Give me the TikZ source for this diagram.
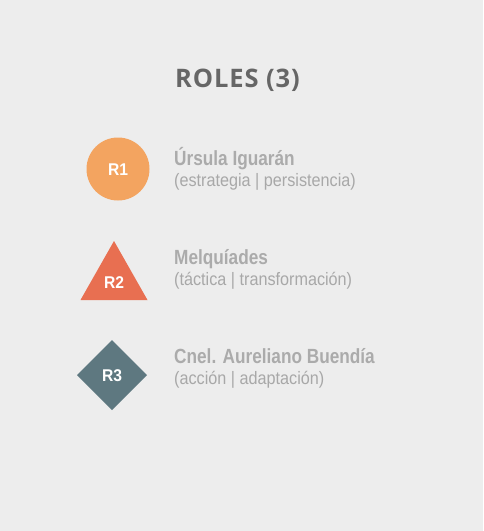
\documentclass[tikz,border=0pt]{standalone}
\usepackage{fontspec}
\setmainfont{Liberation Sans}
\newfontfamily\titlefont[LetterSpace=3.5]{Open Sans}
\newfontfamily\namefont[FakeStretch=0.84]{Liberation Sans}
\newfontfamily\subfont[FakeStretch=0.9]{Liberation Sans}
\newfontfamily\badgefont[FakeStretch=0.92]{Liberation Sans}
\definecolor{bg}{HTML}{EDEDED}
\definecolor{titlec}{HTML}{666666}
\definecolor{namec}{HTML}{ABABAB}
\definecolor{subc}{HTML}{A8A8A8}
\definecolor{r1c}{HTML}{F3A460}
\definecolor{r2c}{HTML}{E86F51}
\definecolor{r3c}{HTML}{5E7880}
\tikzset{
  nametext/.style={anchor=base west, inner sep=0pt, text=namec, font=\namefont\bfseries\fontsize{20.5}{22}\selectfont},
  subtext/.style={anchor=base west, inner sep=0pt, text=subc, font=\subfont\fontsize{18}{20}\selectfont},
  badge/.style={text=white, font=\badgefont\bfseries\fontsize{17}{18}\selectfont, inner sep=0pt}
}
\begin{document}
\begin{tikzpicture}[x=1pt,y=-1pt]
\fill[bg] (0,0) rectangle (483,531);
\useasboundingbox (0,0) rectangle (483,531);
\node[anchor=base, inner sep=0pt, text=titlec, font=\titlefont\bfseries\fontsize{25.5}{27}\selectfont] (title) at (237.5,87) {ROLES (3)};
% R1
\fill[r1c] (118,169) circle (31.5);
\node[badge] (r1) at (118,169.5) {R1};
\node[nametext] (n1) at (174,165) {Úrsula Iguarán};
\node[subtext] (s1) at (174,186) {(estrategia | persistencia)};
% R2
\fill[r2c] (114,241) -- (147.5,300) -- (80.5,300) -- cycle;
\node[badge] (r2) at (114,282.5) {R2};
\node[nametext] (n2) at (174,264) {Melquíades};
\node[subtext] (s2) at (174,285) {(táctica | transformación)};
% R3
\fill[r3c] (112,340) -- (147,375) -- (112,410) -- (77,375) -- cycle;
\node[badge] (r3) at (112,375.5) {R3};
\node[nametext] (n3) at (174,363) {Cnel. Aureliano Buendía};
\node[subtext] (s3) at (174,384) {(acción | adaptación)};
\end{tikzpicture}
\end{document}
